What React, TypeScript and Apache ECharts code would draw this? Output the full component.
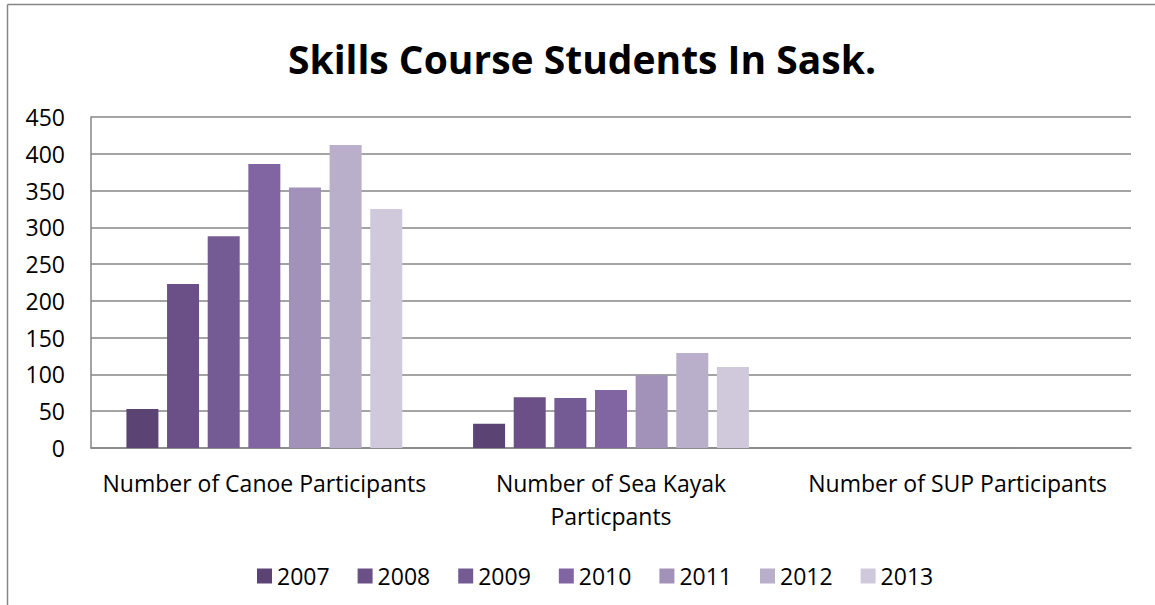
import React, { useEffect, useRef } from "react";
import * as echarts from "echarts";

const categories = ["Number of Canoe Participants", "Number of Sea Kayak\nParticpants", "Number of SUP Participants"];
const years = ["2007", "2008", "2009", "2010", "2011", "2012", "2013"];
const values2007 = [53, 33, 0];
const values2008 = [223, 69, 0];
const values2009 = [288, 68, 0];
const values2010 = [386, 79, 0];
const values2011 = [354, 99, 0];
const values2012 = [412, 129, 0];
const values2013 = [325, 110, 0];
const yTicks = { min: 0, max: 450, interval: 50 };

const colors = ["#5B4474", "#6A5086", "#755B93", "#8065A2", "#A291B8", "#B9AFCB", "#CFC9DB"];
const FONT = "Open Sans";

export default function App() {
  const ref = useRef<HTMLDivElement>(null);
  useEffect(() => {
    if (!ref.current) return;
    const chart = echarts.init(ref.current, undefined, { renderer: "svg" });
    const allValues = [values2007, values2008, values2009, values2010, values2011, values2012, values2013];
    chart.setOption({
      animation: false,
      backgroundColor: "#ffffff",
      textStyle: { fontFamily: FONT },
      graphic: [
        { type: "line", shape: { x1: 7.5, y1: 4.5, x2: 1155, y2: 4.5 }, style: { stroke: "#868686", lineWidth: 1.5 } },
        { type: "line", shape: { x1: 7.5, y1: 4.5, x2: 7.5, y2: 605 }, style: { stroke: "#868686", lineWidth: 1.5 } },
        {
          type: "text",
          x: 582,
          y: 58,
          style: {
            text: "Skills Course Students In Sask.",
            fontFamily: FONT,
            fontWeight: "bold",
            fontSize: 39,
            fill: "#000",
            textAlign: "center",
            textVerticalAlign: "middle",
          },
        },
      ],
      legend: {
        top: 559,
        left: 252,
        itemWidth: 15,
        itemHeight: 15,
        itemGap: 28,
        icon: "rect",
        textStyle: { fontFamily: FONT, fontSize: 23, lineHeight: 24, color: "#000", padding: [0, 0, 0, 0] },
        data: years,
      },
      grid: { left: 91, right: 24, top: 117, bottom: 157, containLabel: false },
      xAxis: {
        type: "category",
        data: categories,
        axisLine: { show: true, lineStyle: { color: "#868686", width: 1.5 } },
        axisTick: { show: false },
        axisLabel: { interval: 0, margin: 18, fontFamily: FONT, fontSize: 23, color: "#000", lineHeight: 33 },
      },
      yAxis: {
        type: "value",
        min: yTicks.min,
        max: yTicks.max,
        interval: yTicks.interval,
        axisLine: { show: true, lineStyle: { color: "#868686", width: 1.5 } },
        axisTick: { show: false },
        axisLabel: { margin: 26, fontFamily: FONT, fontSize: 23, color: "#000" },
        splitLine: { show: true, lineStyle: { color: "#868686", width: 1.5 } },
      },
      series: years.map((y, i) => ({
        name: y,
        type: "bar",
        data: allValues[i],
        barWidth: 32,
        barGap: "27%",
        itemStyle: { color: colors[i] },
      })),
    });
    return () => chart.dispose();
  }, []);
  return <div ref={ref} style={{ position: "fixed", left: 0, top: 0, width: 1155, height: 605 }} />;
}
